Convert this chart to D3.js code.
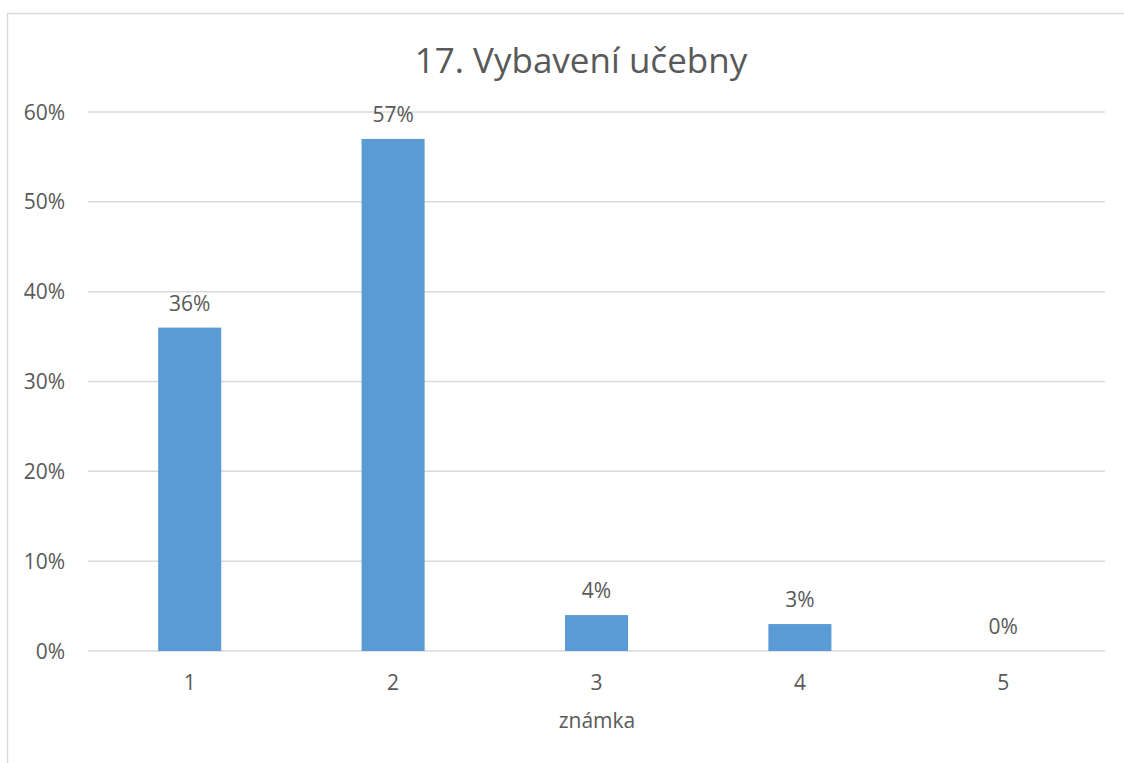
<!DOCTYPE html>
<html><head><meta charset="utf-8">
<script src="https://cdn.jsdelivr.net/npm/d3@7"></script>
<style>body{margin:0;background:#fff;} text{font-family:"Open Sans",sans-serif;fill:#595959;}</style>
</head><body>
<svg id="c" width="1124" height="763"></svg>
<script>
const categories = ["1","2","3","4","5"];
const values = [0.36, 0.57, 0.04, 0.03, 0.00];
const yTicks = [0,0.1,0.2,0.3,0.4,0.5,0.6];
const title = "17. Vybavení učebny";
const xTitle = "známka";

const svg = d3.select("#c");
svg.append("rect").attr("x",7.5).attr("y",13.5).attr("width",1130).attr("height",800)
  .attr("fill","#fff").attr("stroke","#d9d9d9").attr("stroke-width",1.5);

const m = {l:88, r:1105, t:112, b:651};
const x = d3.scaleBand().domain(categories).range([m.l,m.r]).paddingInner(0.69).paddingOuter(0.345);
const y = d3.scaleLinear().domain([0,0.6]).range([m.b,m.t]);

svg.append("g").selectAll("line").data(yTicks).join("line")
  .attr("x1",m.l).attr("x2",m.r).attr("y1",d=>y(d)).attr("y2",d=>y(d))
  .attr("stroke","#d9d9d9").attr("stroke-width",1.5);

svg.append("g").selectAll("text").data(yTicks).join("text")
  .attr("x",65).attr("y",d=>y(d)+7.5).attr("text-anchor","end").attr("font-size",21)
  .text(d3.format(".0%"));

svg.append("g").selectAll("rect").data(values).join("rect")
  .attr("x",(d,i)=>x(categories[i])).attr("width",x.bandwidth())
  .attr("y",d=>y(d)).attr("height",d=>y(0)-y(d)).attr("fill","#5b9bd5");

svg.append("g").selectAll("text").data(values).join("text")
  .attr("x",(d,i)=>x(categories[i])+x.bandwidth()/2).attr("y",d=>y(d)-17)
  .attr("text-anchor","middle").attr("font-size",21).text(d3.format(".0%"));

svg.append("g").selectAll("text").data(categories).join("text")
  .attr("x",d=>x(d)+x.bandwidth()/2).attr("y",690).attr("text-anchor","middle")
  .attr("font-size",21).text(d=>d);

svg.append("text").attr("x",597).attr("y",728).attr("text-anchor","middle").attr("font-size",21).text(xTitle);
svg.append("text").attr("x",581).attr("y",73).attr("text-anchor","middle").attr("font-size",35).text(title);
</script>
</body></html>
